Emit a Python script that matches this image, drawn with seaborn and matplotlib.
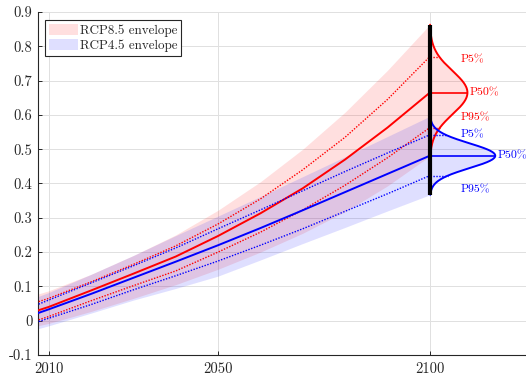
import numpy as np
import pandas as pd
import matplotlib
matplotlib.use("Agg")
import matplotlib.pyplot as plt
import seaborn as sns

# ---- projected values (m) ----
years = [2007, 2010, 2020, 2030, 2040, 2050, 2060, 2070, 2080, 2090, 2100]

rcp85_p50 = [0.028, 0.040, 0.088, 0.137, 0.187, 0.247, 0.313, 0.386, 0.470, 0.563, 0.665]
rcp85_p5 = [0.053, 0.065, 0.113, 0.164, 0.218, 0.282, 0.355, 0.440, 0.535, 0.645, 0.770]
rcp85_p95 = [0.000, 0.012, 0.058, 0.102, 0.145, 0.200, 0.258, 0.323, 0.395, 0.475, 0.563]
rcp85_hi = [0.076, 0.087, 0.135, 0.190, 0.250, 0.322, 0.405, 0.500, 0.608, 0.730, 0.863]
rcp85_lo = [-0.016, -0.008, 0.027, 0.065, 0.105, 0.150, 0.200, 0.255, 0.318, 0.393, 0.480]

rcp45_p50 = [0.020, 0.033, 0.078, 0.125, 0.172, 0.220, 0.270, 0.322, 0.375, 0.428, 0.481]
rcp45_p5 = [0.045, 0.060, 0.110, 0.160, 0.212, 0.268, 0.323, 0.379, 0.435, 0.489, 0.542]
rcp45_p95 = [-0.005, 0.007, 0.047, 0.090, 0.131, 0.174, 0.220, 0.268, 0.319, 0.370, 0.423]
rcp45_hi = [0.068, 0.082, 0.135, 0.190, 0.248, 0.305, 0.362, 0.420, 0.478, 0.537, 0.596]
rcp45_lo = [-0.025, -0.015, 0.022, 0.060, 0.094, 0.130, 0.177, 0.225, 0.272, 0.320, 0.367]

x_ticks = [2010, 2050, 2100]
y_ticks = [-0.1, 0, 0.1, 0.2, 0.3, 0.4, 0.5, 0.6, 0.7, 0.8, 0.9]

scenarios = ["RCP8.5", "RCP4.5"]
colors = {"RCP8.5": "#ff0000", "RCP4.5": "#0000ff"}
fills = {"RCP8.5": "#ff2020", "RCP4.5": "#2020ff"}

df = pd.DataFrame({
    "year": years * 2,
    "scenario": ["RCP8.5"] * len(years) + ["RCP4.5"] * len(years),
    "p50": rcp85_p50 + rcp45_p50,
    "p5": rcp85_p5 + rcp45_p5,
    "p95": rcp85_p95 + rcp45_p95,
    "hi": rcp85_hi + rcp45_hi,
    "lo": rcp85_lo + rcp45_lo,
})

sns.set_style("ticks")
plt.rcParams["font.family"] = ["cmr10", "DejaVu Serif"]
plt.rcParams["mathtext.fontset"] = "cm"
plt.rcParams["axes.unicode_minus"] = False
plt.rcParams["axes.formatter.use_mathtext"] = False

W, H = 526, 379
fig = plt.figure(figsize=(W / 100, H / 100), dpi=100)
ax = fig.add_axes([38 / W, 1 - 355 / H, 1 - 38 / W, (355 - 12) / H])

ax.set_xlim(2007.5, 2122.7)
ax.set_ylim(-0.1, 0.9)
ax.grid(True, color="#e0e0e0", lw=0.7)
ax.set_axisbelow(True)

# envelopes
for sc in scenarios:
    d = df[df.scenario == sc]
    ax.fill_between(d.year, d.lo, d.hi, color=fills[sc], alpha=0.14, lw=0,
                    label=f"{sc} envelope", zorder=1)

# median and 5/95 percentile paths
for sc in scenarios:
    d = df[df.scenario == sc]
    sns.lineplot(data=d, x="year", y="p50", color=colors[sc], lw=1.4, ax=ax,
                 zorder=3)
    for col in ["p5", "p95"]:
        sns.lineplot(data=d, x="year", y=col, color=colors[sc], lw=1.0,
                     ls=(0, (1, 1.1)), ax=ax, zorder=3)

# 2100 distributions
x0 = years[-1]
scale = 1.40
label_x = 2107.3
dist = {
    "RCP8.5": (rcp85_p50[-1], rcp85_p5[-1], rcp85_p95[-1], rcp85_lo[-1], rcp85_hi[-1]),
    "RCP4.5": (rcp45_p50[-1], rcp45_p5[-1], rcp45_p95[-1], rcp45_lo[-1], rcp45_hi[-1]),
}
label_offsets = {
    "RCP8.5": {"p5": -2, "p95": 7},
    "RCP4.5": {"p5": 0, "p95": -10},
}
for sc in scenarios:
    med, p5, p95, lo, hi = dist[sc]
    sigma = (p5 - p95) / (2 * 1.6449)
    yy = np.linspace(lo, hi, 400)

    def width(v):
        return scale * np.exp(-0.5 * ((v - med) / sigma) ** 2) / (sigma * np.sqrt(2 * np.pi))

    xx = x0 + width(yy)
    ax.fill_betweenx(yy, x0, xx, color=fills[sc], alpha=0.14, lw=0, zorder=2)
    ax.plot(xx, yy, color=colors[sc], lw=1.4, zorder=4)
    ax.plot([x0, x0 + width(med)], [med, med], color=colors[sc], lw=1.2, zorder=4)
    for v in (p5, p95):
        ax.plot([x0, x0 + width(v)], [v, v], color=colors[sc], lw=1.0,
                ls=(0, (1, 1.1)), zorder=4)
    ax.annotate("P50%", (x0 + width(med), med), xytext=(1.5, 0),
                textcoords="offset points", ha="left", va="center",
                color=colors[sc], fontsize=8.5, annotation_clip=False)
    ax.annotate("P5%", (label_x, p5), xytext=(0, label_offsets[sc]["p5"]),
                textcoords="offset points", ha="left", va="center",
                color=colors[sc], fontsize=8.5)
    ax.annotate("P95%", (label_x, p95), xytext=(0, label_offsets[sc]["p95"]),
                textcoords="offset points", ha="left", va="center",
                color=colors[sc], fontsize=8.5)

ax.plot([x0, x0], [rcp45_lo[-1], rcp85_hi[-1]], color="black", lw=3,
        solid_capstyle="butt", zorder=5)

ax.set_xticks(x_ticks)
ax.set_yticks(y_ticks)
ax.set_xticklabels([str(t) for t in x_ticks])
ax.set_yticklabels([("%g" % t) for t in y_ticks])
ax.tick_params(direction="in", length=3, width=0.7, colors="#262626",
               labelsize=10.5, labelcolor="#262626")
ax.tick_params(axis="y", pad=4)
ax.tick_params(axis="x", pad=5)
for s in ["top", "right"]:
    ax.spines[s].set_visible(False)
for s in ["left", "bottom"]:
    ax.spines[s].set_color("#262626")
    ax.spines[s].set_linewidth(0.8)
ax.set_xlabel("")
ax.set_ylabel("")

leg = ax.legend(loc="upper left", bbox_to_anchor=(7 / 488, 1 - 8 / 343), fontsize=9.4,
                frameon=True, fancybox=False, edgecolor="#262626",
                framealpha=1, borderpad=0.3, labelspacing=0.2,
                handlelength=2.2, handleheight=0.9, handletextpad=0.15,
                borderaxespad=0)
leg.get_frame().set_linewidth(0.8)

fig.savefig("out.png", dpi=100)
